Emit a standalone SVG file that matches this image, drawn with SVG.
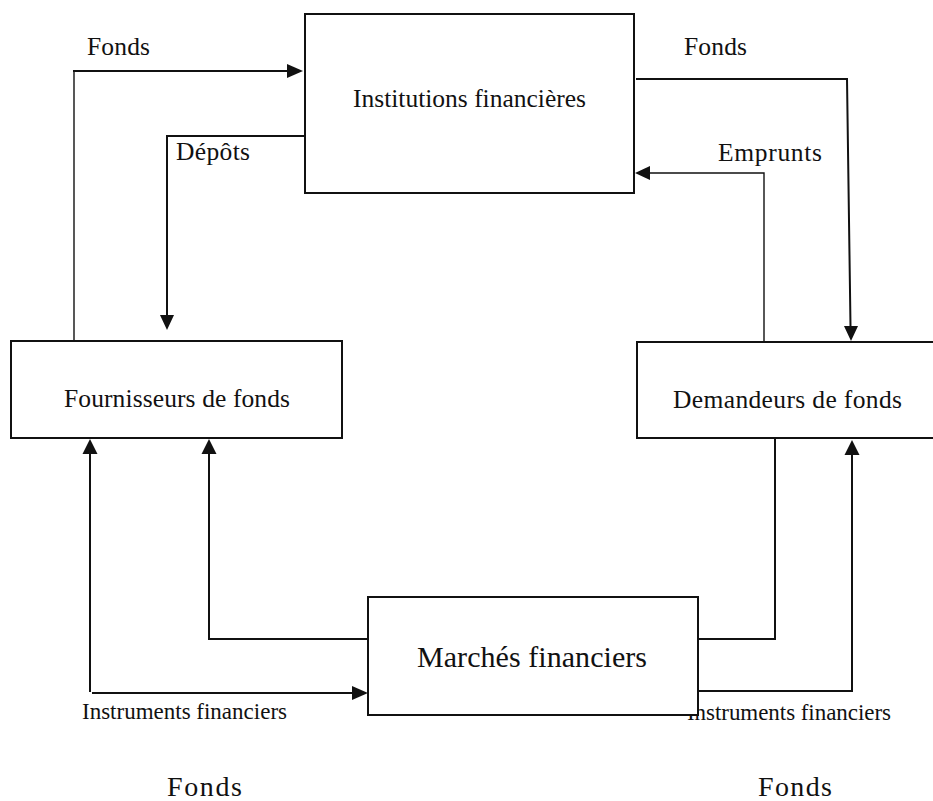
<svg xmlns="http://www.w3.org/2000/svg" width="933" height="801" viewBox="0 0 933 801">
<style>
  .box { fill: #ffffff; stroke: #111; stroke-width: 2; }
  .ln { fill: none; stroke: #111; stroke-width: 2; }
  .thin { fill: none; stroke: #111; stroke-width: 1.4; }
  .t { font-family: "Liberation Serif", "Times New Roman", serif; fill: #111; }
  .head { fill: #111; stroke: none; }
</style>
<rect width="933" height="801" fill="#ffffff"/>
<g id="connectors">
  <!-- Fournisseurs -> Institutions (Fonds) -->
  <path class="thin" d="M74,341 V71"/>
  <path class="ln" d="M73,71 H288"/>
  <polygon class="head" points="303,71 287,64 287,78"/>
  <!-- Institutions -> Fournisseurs (Dépôts) -->
  <path class="ln" d="M305,136 H167 V316"/>
  <polygon class="head" points="167,330 160,315 174,315"/>
  <!-- Institutions -> Demandeurs (Fonds) -->
  <path class="ln" d="M636,79 H847 L850.5,326"/>
  <polygon class="head" points="851,341 844,326 858,326"/>
  <!-- Demandeurs -> Institutions (Emprunts) -->
  <path class="thin" d="M764,342 V173 H650"/>
  <polygon class="head" points="635,173 650,166 650,180"/>
  <!-- Marchés -> Fournisseurs -->
  <path class="ln" d="M368,639 H209 V453"/>
  <polygon class="head" points="209,439 201.5,454 216.5,454"/>
  <!-- Fournisseurs <-> Marchés (Instruments financiers) -->
  <path class="ln" d="M90,692 V453"/>
  <polygon class="head" points="90,439 82.5,454 97.5,454"/>
  <path class="ln" d="M92,693 H353"/>
  <polygon class="head" points="368,693 352,686 352,700"/>
  <!-- Demandeurs -> Marchés -->
  <path class="ln" d="M698,639 H775 V438"/>
  <!-- Marchés -> Demandeurs -->
  <path class="ln" d="M698,691 H852 V454"/>
  <polygon class="head" points="852,440 844.5,455 859.5,455"/>
</g>
<g id="labels">
  <text class="t" x="87" y="55" font-size="25.5" textLength="63">Fonds</text>
  <text class="t" x="176" y="160" font-size="25.5" textLength="74">Dépôts</text>
  <text class="t" x="684" y="55" font-size="25.5" textLength="63">Fonds</text>
  <text class="t" x="718" y="161" font-size="25.5" textLength="104">Emprunts</text>
  <text class="t" x="82" y="719" font-size="23" textLength="205">Instruments financiers</text>
  <text class="t" x="687" y="720" font-size="23" textLength="204">Instruments financiers</text>
  <text class="t" x="167" y="796" font-size="28" textLength="75">Fonds</text>
  <text class="t" x="758" y="796" font-size="28" textLength="74">Fonds</text>
</g>
<g id="institutions">
  <rect class="box" x="305" y="14" width="329" height="179"/>
  <text class="t" x="353" y="107" font-size="25.5" textLength="233">Institutions financières</text>
</g>
<g id="fournisseurs">
  <rect class="box" x="11" y="341" width="331" height="97"/>
  <text class="t" x="64" y="407" font-size="25.5" textLength="226">Fournisseurs de fonds</text>
</g>
<g id="demandeurs">
  <rect class="box" x="637" y="342" width="310" height="96"/>
  <text class="t" x="673" y="408" font-size="25.5" textLength="229">Demandeurs de fonds</text>
</g>
<g id="marches">
  <rect class="box" x="368" y="597" width="330" height="118"/>
  <text class="t" x="417" y="667" font-size="30" textLength="230">Marchés financiers</text>
</g>
</svg>
